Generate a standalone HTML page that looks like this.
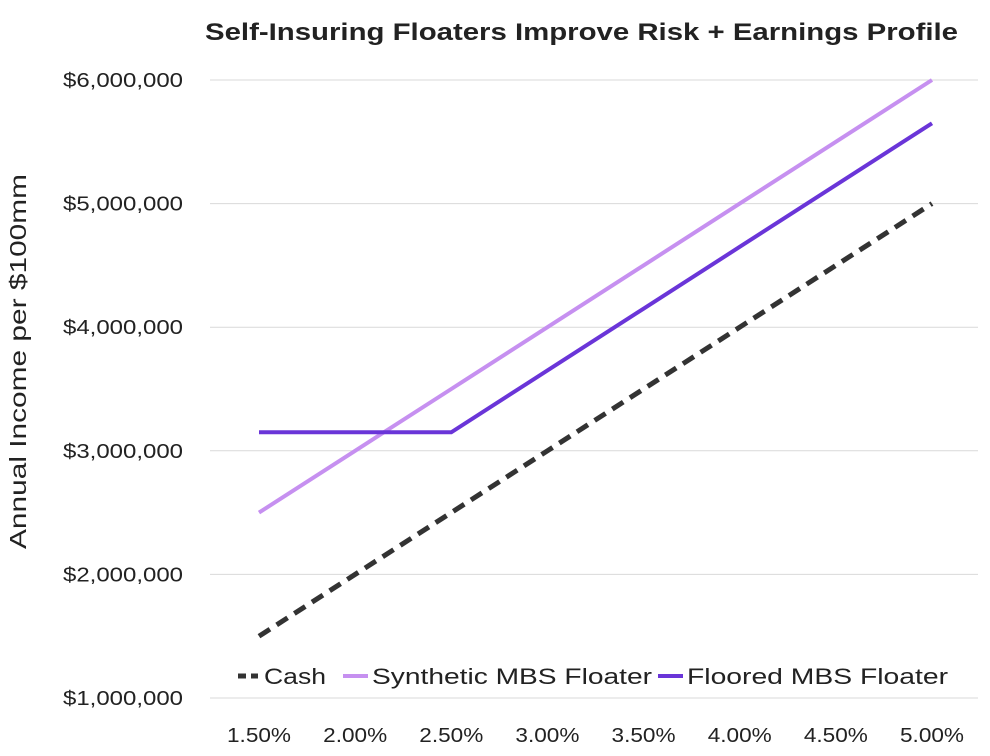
<!DOCTYPE html>
<html><head><meta charset="utf-8"><style>
body{margin:0;background:#fff;font-family:"Liberation Sans",sans-serif;}
svg text{font-family:"Liberation Sans",sans-serif;fill:#222;}
</style></head><body>
<svg id="chart" width="990" height="751">
<text x="205" y="40" textLength="753" lengthAdjust="spacingAndGlyphs" font-size="24" font-weight="bold">Self-Insuring Floaters Improve Risk + Earnings Profile</text>
<text transform="translate(26,362) rotate(-90)" x="-187" textLength="375" lengthAdjust="spacingAndGlyphs" font-size="23">Annual Income per $100mm</text>
<g id="grid"></g><g id="yt"></g><g id="xt"></g><g id="lines"></g>
<g>
<line x1="238" y1="676" x2="258" y2="676" stroke="#333" stroke-width="5" stroke-dasharray="8,5"/>
<text x="264" y="684" textLength="62" lengthAdjust="spacingAndGlyphs" font-size="22">Cash</text>
<line x1="343" y1="676" x2="368" y2="676" stroke="#c690f0" stroke-width="4"/>
<text x="372" y="684" textLength="280" lengthAdjust="spacingAndGlyphs" font-size="22">Synthetic MBS Floater</text>
<line x1="658" y1="676" x2="683" y2="676" stroke="#6a35d8" stroke-width="4"/>
<text x="687" y="684" textLength="261" lengthAdjust="spacingAndGlyphs" font-size="22">Floored MBS Floater</text>
</g>
</svg>
<script>
const categories=["1.50%","2.00%","2.50%","3.00%","3.50%","4.00%","4.50%","5.00%"];
const cashValues=[1.5,2.0,2.5,3.0,3.5,4.0,4.5,5.0];
const syntheticValues=[2.5,3.0,3.5,4.0,4.5,5.0,5.5,6.0];
const flooredValues=[3.15,3.15,3.15,3.65,4.15,4.65,5.15,5.65];
const yTicks=[1,2,3,4,5,6];
const yTickLabels=["$1,000,000","$2,000,000","$3,000,000","$4,000,000","$5,000,000","$6,000,000"];
const NS="http://www.w3.org/2000/svg";
const x=i=>259+i*(932-259)/(categories.length-1);
const y=v=>698-(v-1)*(698-80)/5;
function mk(tag,attrs,parent){const e=document.createElementNS(NS,tag);for(const k in attrs)e.setAttribute(k,attrs[k]);document.getElementById(parent).appendChild(e);return e;}
yTicks.forEach((t,i)=>{
 const g=mk("line",{x1:210,x2:978,y1:y(t),y2:y(t),stroke:"#d9d9d9","stroke-width":1},"grid");
 
 
 const tx=mk("text",{x:63,y:y(t)+7,textLength:120,lengthAdjust:"spacingAndGlyphs","font-size":20},"yt");
 tx.textContent=yTickLabels[i];
 
 
});
categories.forEach((c,i)=>{
 const tx=mk("text",{x:x(i)-32,y:742,textLength:64,lengthAdjust:"spacingAndGlyphs","font-size":20},"xt");
 tx.textContent=c;
 
 
});
function series(vals,color,dash,name){
 const p=mk("polyline",{points:vals.map((v,i)=>x(i)+","+y(v)).join(" "),fill:"none",stroke:color,"stroke-width":dash?5:4},"lines");
 if(dash)p.setAttribute("stroke-dasharray","13,8");
 
 
}
series(cashValues,"#333",true,"cash-line");
series(syntheticValues,"#c690f0",false,"synthetic-mbs-floater-line");
series(flooredValues,"#6a35d8",false,"floored-mbs-floater-line");
</script>
</body></html>
